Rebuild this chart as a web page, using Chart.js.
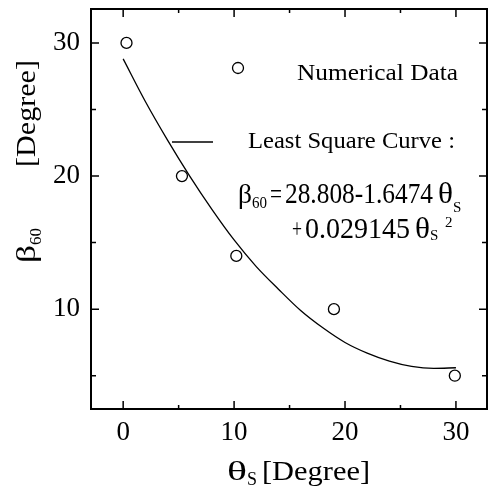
<!DOCTYPE html>
<html>
<head>
<meta charset="utf-8">
<script src="https://cdn.jsdelivr.net/npm/chart.js@4.4.1/dist/chart.umd.min.js"></script>
<style>
  html,body{margin:0;padding:0;background:#fff;overflow:hidden}
  #c{display:block;width:489px;height:495px}
</style>
</head>
<body>
<canvas id="c" width="489" height="495"></canvas>
<script>
/* ---------- data ---------- */
const xTickVals = [0, 5, 10, 15, 20, 25, 30];
const yTickVals = [5, 10, 15, 20, 25, 30];

// numerical data (circles)
const dataX = [0.3, 5.3, 10.2, 19.0, 29.9];
const dataY = [30, 20, 14, 10, 5];

// least square curve
const curveX = [0, 2, 4, 6, 8, 10, 12, 14, 16, 18, 20, 22, 24, 26, 28, 30];
const curveY = [28.8, 25.6, 22.7, 20.0, 17.5, 15.2, 13.2, 11.5, 9.9, 8.6, 7.5, 6.7, 6.1, 5.7, 5.55, 5.6];

/* ---------- look ---------- */
const SERIF = '"Liberation Serif","Times New Roman",serif';
const INK = "#000";

const toXY = (xs, ys) => xs.map((x, i) => ({x: x, y: ys[i]}));

// draw pieces of text one after another; w = squeeze/stretch piece to this width
function rich(ctx, x, y, parts){
  parts.forEach(p => {
    ctx.font = p.size + "px " + SERIF;
    const mw = ctx.measureText(p.t).width;
    const k = p.w ? p.w / mw : 1;
    ctx.save();
    ctx.translate(x, y + (p.dy || 0));
    ctx.scale(k, 1);
    ctx.fillText(p.t, 0, 0);
    ctx.restore();
    x += mw * k + (p.gap || 0);
  });
  return x;
}

/* ---------- frame, ticks, legend, titles ---------- */
const decor = {
  id: "decor",
  afterDraw(chart){
    const ctx = chart.ctx;
    const a = chart.chartArea;
    const sx = chart.scales.x, sy = chart.scales.y;
    ctx.save();
    ctx.strokeStyle = INK;
    ctx.fillStyle = INK;

    // frame
    ctx.lineWidth = 2;
    ctx.strokeRect(a.left, a.top, a.right - a.left, a.bottom - a.top);

    // inward ticks
    ctx.lineWidth = 1.5;
    ctx.beginPath();
    xTickVals.forEach(v => {
      const px = sx.getPixelForValue(v);
      const len = v % 10 === 0 ? 8 : 4;
      ctx.moveTo(px, a.bottom); ctx.lineTo(px, a.bottom - len);
      ctx.moveTo(px, a.top);    ctx.lineTo(px, a.top + len);
    });
    yTickVals.forEach(v => {
      const py = sy.getPixelForValue(v);
      const len = v % 10 === 0 ? 8 : 5;
      ctx.moveTo(a.left, py);  ctx.lineTo(a.left + len, py);
      ctx.moveTo(a.right, py); ctx.lineTo(a.right - len, py);
    });
    ctx.stroke();

    // legend
    ctx.lineWidth = 1.3;
    ctx.beginPath();
    ctx.arc(238, 68, 5.5, 0, Math.PI * 2);
    ctx.fillStyle = "#fff"; ctx.fill(); ctx.stroke();
    ctx.fillStyle = INK;
    ctx.beginPath();
    ctx.moveTo(172, 142); ctx.lineTo(213, 142);
    ctx.stroke();

    ctx.textAlign = "left";
    ctx.textBaseline = "alphabetic";
    rich(ctx, 297, 80, [{t: "Numerical Data", size: 24, w: 161}]);
    rich(ctx, 248, 148, [{t: "Least Square Curve :", size: 24, w: 207}]);

    // equation
    rich(ctx, 238, 203, [{t: "β", size: 28, w: 14}, {t: "60", size: 17, dy: 5, w: 15}]);
    rich(ctx, 270, 203, [{t: "=", size: 28, w: 12}]);
    rich(ctx, 285, 203, [{t: "28.808-1.6474", size: 29, w: 148}]);
    rich(ctx, 438, 203, [{t: "θ", size: 29, w: 15}, {t: "S", size: 15, dy: 9}]);
    rich(ctx, 292, 238, [{t: "+", size: 28, w: 10}]);
    rich(ctx, 305, 238, [{t: "0.029145", size: 29, w: 105}]);
    rich(ctx, 415, 238, [{t: "θ", size: 29, w: 15}, {t: "S", size: 15, dy: 2}]);
    rich(ctx, 445, 227, [{t: "2", size: 15}]);

    // x title
    rich(ctx, 227, 480, [{t: "θ", size: 28, w: 20}, {t: "S", size: 18, dy: 5}]);
    rich(ctx, 262, 480, [{t: "[Degree]", size: 27, w: 108}]);

    // y title (rotated)
    ctx.translate(35, 263);
    ctx.rotate(-Math.PI / 2);
    rich(ctx, 0, 0, [{t: "β", size: 28, w: 18}, {t: "60", size: 17, dy: 6}]);
    rich(ctx, 96, 0, [{t: "[Degree]", size: 27, w: 107}]);
    ctx.restore();
  }
};

/* ---------- chart ---------- */
new Chart(document.getElementById("c"), {
  type: "scatter",
  data: {
    datasets: [
      {
        label: "Numerical Data",
        data: toXY(dataX, dataY),
        pointStyle: "circle",
        pointRadius: 5.5,
        pointBorderWidth: 1.3,
        pointBorderColor: INK,
        pointBackgroundColor: "#fff",
        showLine: false,
        order: 0
      },
      {
        label: "Least Square Curve",
        data: toXY(curveX, curveY),
        showLine: true,
        borderColor: INK,
        borderWidth: 1.3,
        pointRadius: 0,
        cubicInterpolationMode: "monotone",
        order: 1
      }
    ]
  },
  options: {
    responsive: false,
    animation: false,
    devicePixelRatio: 1,
    layout: {autoPadding: false, padding: {left: 0, right: 2, top: 9, bottom: 0}},
    plugins: {legend: {display: false}, tooltip: {enabled: false}},
    scales: {
      x: {
        type: "linear",
        min: -2.9, max: 32.8,
        afterBuildTicks: s => { s.ticks = xTickVals.map(v => ({value: v})); },
        afterFit: s => { s.height = 86; s.paddingLeft = 0; s.paddingRight = 0; },
        grid: {display: false, drawTicks: false},
        border: {display: false},
        ticks: {
          color: INK, padding: 8,
          font: {family: SERIF, size: 27},
          callback: v => v % 10 === 0 ? v : ""
        }
      },
      y: {
        type: "linear",
        min: 2.5, max: 32.55,
        afterBuildTicks: s => { s.ticks = yTickVals.map(v => ({value: v})); },
        afterFit: s => { s.width = 91; s.paddingTop = 0; s.paddingBottom = 0; },
        grid: {display: false, drawTicks: false},
        border: {display: false},
        ticks: {
          color: INK, padding: 11,
          font: {family: SERIF, size: 27},
          callback: v => v % 10 === 0 ? v : ""
        }
      }
    }
  },
  plugins: [decor]
});
</script>
</body>
</html>
